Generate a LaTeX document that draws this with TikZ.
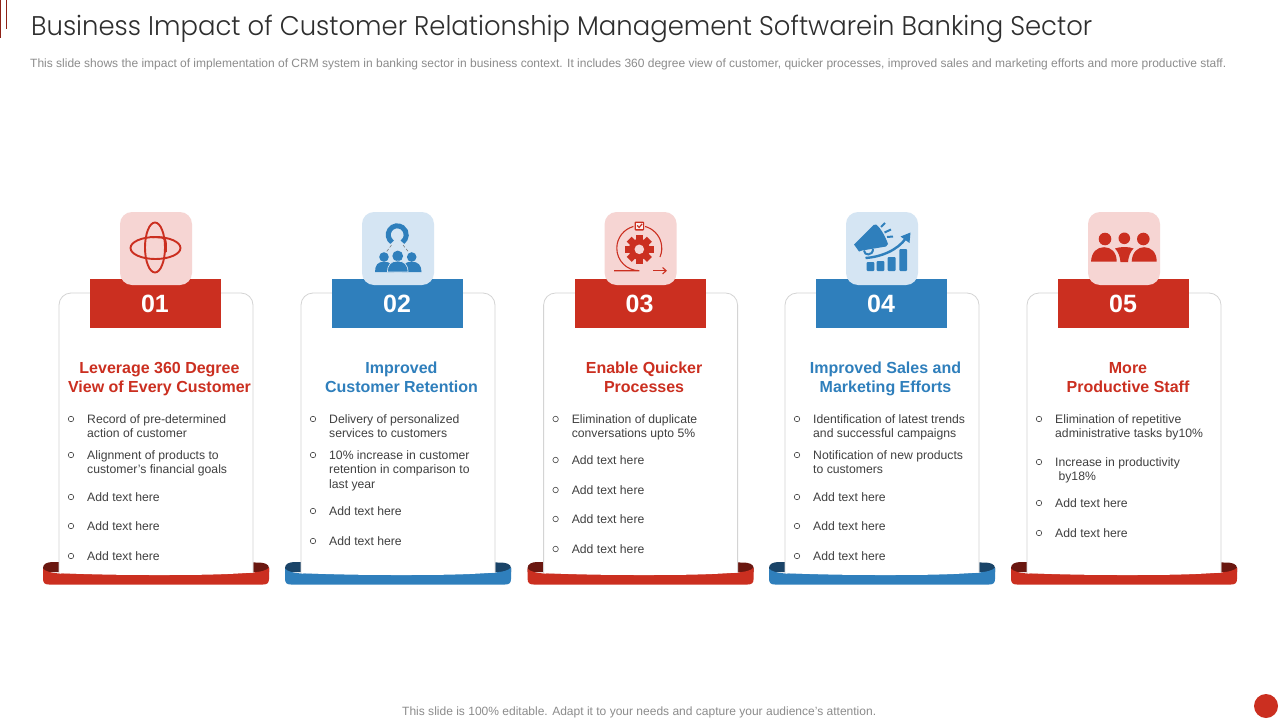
\documentclass[tikz,border=0pt]{standalone}
\usepackage{fontspec}
\usepackage{graphicx}
\setmainfont{Liberation Sans}
\newfontfamily\titlefont{Poppins Light}
\definecolor{cred}{HTML}{CB2F20}
\definecolor{cblue}{HTML}{2F7FBC}
\definecolor{lred}{HTML}{F6D5D3}
\definecolor{lblue}{HTML}{D5E5F3}
\definecolor{dred}{HTML}{6A1710}
\definecolor{dblue}{HTML}{1A4468}
\definecolor{bodytxt}{HTML}{404040}
\definecolor{graytxt}{HTML}{8C8C8C}
\definecolor{cardline}{HTML}{D4D4D4}
\newcount\txtcount
\tikzset{
  x=1pt,y=-1pt,
  bodytext/.style={anchor=base west,inner sep=0pt,text=bodytxt,font=\fontsize{12.2}{14}\selectfont},
  headtext/.style={anchor=base,inner sep=0pt,font=\bfseries\fontsize{16}{19}\selectfont},
  numtext/.style={anchor=center,inner sep=0pt,text=white,font=\bfseries\fontsize{25}{28}\selectfont},
  bullet/.style={circle,draw=bodytxt,line width=0.6pt,fill=white,inner sep=0pt,minimum size=5.5pt},
  graytext/.style={anchor=base west,inner sep=0pt,text=graytxt},
  iconsquare/.style={rounded corners=12pt},
}
% #1 card id, #2 main colour, #3 light colour, #4 dark colour, #5 number
\newcommand{\cardbase}[5]{
  \fill[#4] (43,572) -- (43,568) .. controls (43,564) and (47,562) .. (53,562) -- (258,562.5) .. controls (264,562.5) and (269,564) .. (269,568) -- (269,572) -- cycle;
  \fill[#2] (43,568.5) .. controls (45,571.5) and (52,573) .. (60,573.5) -- (252,572.5) .. controls (260,572) and (267,570.5) .. (269,567.5)
     -- (269,579) .. controls (269,583) and (267,584.5) .. (263,584.5) -- (49,584.5) .. controls (45,584.5) and (43,583) .. (43,579) -- cycle;
  \fill[white] (253,560) -- (253,572.5) .. controls (220,575) and (190,575) .. (156,575) .. controls (120,575) and (90,574.5) .. (59,573) -- (59,560) -- cycle;
  \path[draw=cardline,fill=white,line width=0.8pt,rounded corners=12pt] (59,573) -- (59,293) -- (253,293) -- (253,572.5);
  \node[fill=#2,minimum width=131pt,minimum height=49pt,inner sep=0pt,anchor=north west] (band#1) at (90,279) {};
  \node[numtext] (num#1) at (155,304) {#5};
  \fill[#3,iconsquare] (120,212) rectangle (192,285);
}
\newcommand{\itm}[3]{%
  \global\advance\txtcount by 1
  \node[bullet] (bul\the\txtcount) at (71,#1) {};
  \node[bodytext] (txt\the\txtcount) at (87,#1+4.3) {#2};
  \ifx&#3&\else
    \global\advance\txtcount by 1
    \node[bodytext] (txt\the\txtcount) at (87,#1+18.3) {#3};
  \fi
}
\newcommand{\lne}[2]{%
  \global\advance\txtcount by 1
  \node[bodytext] (txt\the\txtcount) at (87,#1+4.3) {#2};
}
\newcommand{\heads}[4]{% colour, centre x, line1, line2
  \global\advance\txtcount by 1
  \node[headtext,text=#1] (txt\the\txtcount) at (#2,373.5) {#3};
  \global\advance\txtcount by 1
  \node[headtext,text=#1] (txt\the\txtcount) at (#2,392.5) {#4};
}
\begin{document}
\begin{tikzpicture}
\useasboundingbox (0,0) rectangle (1280,720);
\fill[white] (0,0) rectangle (1280,720);
% top-left accent
\draw[cred!70!black,line width=1.4pt] (0.7,0) -- (0.7,38);
\draw[cred!70!black,line width=1pt] (6.3,0) -- (6.3,29);
% headings
\node[anchor=base west,inner sep=0pt,text=black!82,font=\titlefont\fontsize{27}{30}\selectfont] (title) at (31,35)
  {\resizebox{1061pt}{\height}{Business Impact of Customer Relationship Management Softwarein Banking Sector}};
\node[graytext,font=\fontsize{12}{14}\selectfont] (sub) at (30,67.3)
  {\resizebox{1196pt}{\height}{This slide shows the impact of implementation of CRM system in banking sector in business context. It includes 360 degree view of customer, quicker processes, improved sales and marketing efforts and more productive staff.}};
\node[graytext,font=\fontsize{12}{14}\selectfont] (foot) at (402,715.3)
  {\resizebox{474pt}{\height}{This slide is 100\% editable. Adapt it to your needs and capture your audience's attention.}};
\node[circle,fill=cred,minimum size=24pt,inner sep=0pt] (dot) at (1266,706) {};

% ---------- Card 1
\begin{scope}
\cardbase{a}{cred}{lred}{dred}{01}
\draw[cred,line width=1.9pt] (155.5,248) ellipse[x radius=25,y radius=11];
\draw[cred,line width=1.9pt] (155,247.5) ellipse[x radius=10,y radius=25];
\draw[cred,line width=1.8pt] (150,237) -- (162,237.5) .. controls (165,238) and (166,240) .. (166,245) -- (166,252);
\heads{cred}{159.5}{Leverage 360 Degree}{View of Every Customer}
\itm{419}{Record of pre-determined}{action of customer}
\itm{455}{Alignment of products to}{customer’s financial goals}
\itm{497}{Add text here}{}
\itm{526}{Add text here}{}
\itm{556}{Add text here}{}
\end{scope}

% ---------- Card 2
\begin{scope}[xshift=242pt]
\cardbase{b}{cblue}{lblue}{dblue}{02}
\draw[cblue,line width=5pt] (150.1,242.2) arc[start angle=125,end angle=415,radius=9];
\draw[black!50,line width=0.6pt,densely dashed] (149.5,245) -- (144,252.5);
\draw[black!50,line width=0.6pt,densely dashed] (161,245) -- (167,252.5);
\fill[cblue] (142,257) circle[radius=4.8] (155.7,256) circle[radius=5.4] (169.7,257) circle[radius=4.8];
\fill[cblue] (133,272) .. controls (133,265) and (136,261.7) .. (142,261.7) .. controls (148,261.7) and (152,265) .. (152,272) -- cycle;
\fill[cblue] (160,272) .. controls (160,265) and (163,261.7) .. (169.5,261.7) .. controls (176,261.7) and (179.5,265) .. (179.5,272) -- cycle;
\draw[lblue,fill=cblue,line width=0.7pt] (145.5,272) .. controls (145.5,264.5) and (149,261) .. (155.7,261) .. controls (162,261) and (166,264.5) .. (166,272) -- cycle;
\heads{cblue}{159.5}{Improved}{Customer Retention}
\itm{419}{Delivery of personalized}{services to customers}
\itm{455}{10\% increase in customer}{retention in comparison to}
\lne{484}{last year}
\itm{511}{Add text here}{}
\itm{541}{Add text here}{}
\end{scope}

% ---------- Card 3
\begin{scope}[xshift=484.6pt]
\cardbase{c}{cred}{lred}{dred}{03}
\foreach \a in {0,45,...,315} {
  \fill[cred,rotate around={\a:(154.7,249.3)}] (151.2,235) rectangle (158.2,240);
}
\fill[cred] (154.7,249.3) circle[radius=10.5];
\fill[lred] (154.7,249.3) circle[radius=4.8];
\draw[cred,line width=1.1pt] (129.5,270.7) -- (154.7,270.7) arc[start angle=90,end angle=255,radius=22.5];
\draw[cred,line width=1.1pt] (160.5,226.5) arc[start angle=285,end angle=383,radius=22.5];
\draw[cred,line width=1.1pt] (168.5,270.7) -- (181.5,270.7);
\draw[cred,line width=1.1pt] (178,267.5) -- (181.5,270.7) -- (178,274);
\fill[cred,rounded corners=1pt] (150,221.5) rectangle (159.5,230.5);
\fill[lred!40!white] (151.6,223) rectangle (157.9,229);
\draw[cred,line width=1.2pt] (152.6,225.5) -- (154.5,227.5) -- (157.5,223.8);
\heads{cred}{159.5}{Enable Quicker}{Processes}
\itm{419}{Elimination of duplicate}{conversations upto 5\%}
\itm{460}{Add text here}{}
\itm{490}{Add text here}{}
\itm{519}{Add text here}{}
\itm{549}{Add text here}{}
\end{scope}

% ---------- Card 4
\begin{scope}[xshift=726pt]
\cardbase{d}{cblue}{lblue}{dblue}{04}
\fill[cblue] (128,244.5) -- (147.5,225) -- (150,224.5) .. controls (155,228) and (160,238) .. (162,244) -- (160,246.5) -- (136,250.5) -- (133,251.5) -- cycle;
\draw[cblue,line width=2pt] (138,250.5) .. controls (138,256) and (147,256) .. (147,249);
\draw[cblue,line width=2pt] (155,227) -- (159,223) (158.5,232.5) -- (165,229.5) (161,237) -- (167,236.5);
\draw[cblue,line width=2.4pt] (139.5,258) .. controls (155,257) and (172,250) .. (180,238);
\fill[cblue] (184.5,232.5) -- (183.5,243) -- (174.5,236.5) -- cycle;
\fill[cblue,rounded corners=1pt] (140.7,262) rectangle (148.3,271) (150.7,261) rectangle (158.3,271) (161.7,257) rectangle (169.7,271) (173.3,249) rectangle (181,271);
\heads{cblue}{159.5}{Improved Sales and}{Marketing Efforts}
\itm{419}{Identification of latest trends}{and successful campaigns}
\itm{455}{Notification of new products}{to customers}
\itm{497}{Add text here}{}
\itm{526}{Add text here}{}
\itm{556}{Add text here}{}
\end{scope}

% ---------- Card 5
\begin{scope}[xshift=968pt]
\cardbase{e}{cred}{lred}{dred}{05}
\fill[cred] (137,239) circle[radius=6.3] (156.3,238.3) circle[radius=5.8] (175.3,239) circle[radius=6.3];
\fill[cred] (123,261.7) .. controls (123.5,252) and (129,247.2) .. (136,247.2) .. controls (143,247.2) and (148.7,252) .. (148.7,261.7) -- cycle;
\fill[cred] (163.7,261.7) .. controls (164,252) and (170,247.2) .. (176,247.2) .. controls (183,247.2) and (188.7,252) .. (188.7,261.7) -- cycle;
\fill[cred] (147,248.5) .. controls (152,246.5) and (161,246.5) .. (165.5,248.5) .. controls (162,252) and (160.5,257) .. (160,262) -- (152.5,262) .. controls (152,257) and (150.5,252) .. (147,248.5) -- cycle;
\heads{cred}{160}{More}{Productive Staff}
\itm{419}{Elimination of repetitive}{administrative tasks by10\%}
\itm{462}{Increase in productivity}{\ by18\%}
\itm{503}{Add text here}{}
\itm{533}{Add text here}{}
\end{scope}
\end{tikzpicture}
\end{document}
